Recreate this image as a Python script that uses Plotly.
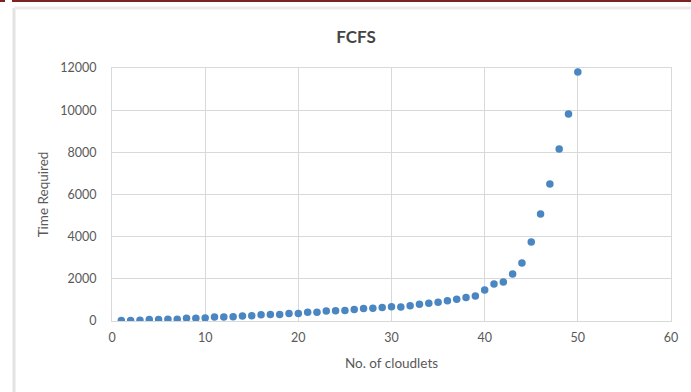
import plotly.graph_objects as go

cloudlets = list(range(1, 51))
time_required = [20, 25, 30, 70, 75, 80, 85, 130, 135, 140,
                 190, 195, 200, 240, 245, 300, 305, 310, 350, 360,
                 410, 420, 480, 490, 495, 540, 590, 600, 640, 680,
                 660, 725, 790, 840, 890, 965, 1030, 1120, 1190, 1470,
                 1760, 1850, 2230, 2750, 3750, 5080, 6500, 8160, 9820, 11810]

x_ticks = [0, 10, 20, 30, 40, 50, 60]
y_ticks = [0, 2000, 4000, 6000, 8000, 10000, 12000]
y_tick_labels = ["0", "2000", "4000", "6000", "8000", "10000", "12000"]

W, H = 691, 392
L, R, T, B = 112, 20, 68, 71
pw, ph = W - L - R, H - T - B

def px(p):
    return (p - L) / pw

def py(q):
    return (H - B - q) / ph

FONT = "Lato, Open Sans, sans-serif"

fig = go.Figure()
fig.add_trace(go.Scatter(
    x=cloudlets, y=time_required, mode="markers",
    marker=dict(color="#4a86c2", size=7.5),
    showlegend=False,
))

grid = "#d9d9d9"
tickfont = dict(family=FONT, size=12.5, color="#595959")
titlefont = dict(family=FONT, size=13.5, color="#595959")

fig.update_layout(
    width=W, height=H,
    margin=dict(l=L, r=R, t=T, b=B),
    paper_bgcolor="white", plot_bgcolor="white",
    title=dict(text="<b>FCFS</b>", x=356 / W, xanchor="center", y=1 - 37 / H, yanchor="middle",
               font=dict(family=FONT, size=17, color="#454545")),
    xaxis=dict(range=[0, 60], tickvals=x_ticks, showgrid=True, gridcolor=grid, gridwidth=1,
               zeroline=False, showline=True, linecolor=grid, mirror=True,
               ticks="", tickfont=tickfont, ticklabelstandoff=5,
               title=dict(text="No. of cloudlets", font=titlefont, standoff=14)),
    yaxis=dict(range=[0, 12000], tickvals=y_ticks, ticktext=y_tick_labels,
               showgrid=True, gridcolor=grid, gridwidth=1,
               zeroline=False, showline=True, linecolor=grid, mirror=True,
               ticks="", tickfont=tickfont, ticklabelstandoff=12,
               title=dict(text="Time Required", font=titlefont, standoff=8)),
    shapes=[
        dict(type="line", xref="paper", yref="paper", x0=px(14), x1=px(14), y0=py(8), y1=py(400),
             line=dict(color="#e3e3e3", width=3)),
        dict(type="line", xref="paper", yref="paper", x0=px(14), x1=px(700), y0=py(8), y1=py(8),
             line=dict(color="#ececec", width=3)),
        dict(type="line", xref="paper", yref="paper", x0=px(12), x1=px(700), y0=py(1), y1=py(1),
             line=dict(color="#7a2424", width=2)),
        dict(type="line", xref="paper", yref="paper", x0=px(-5), x1=px(5), y0=py(1), y1=py(1),
             line=dict(color="#7a2424", width=2)),
    ],
)

fig.write_html("out.html", config={"displayModeBar": False},
               post_script="document.body.style.margin='0';document.body.style.overflow='hidden';")
